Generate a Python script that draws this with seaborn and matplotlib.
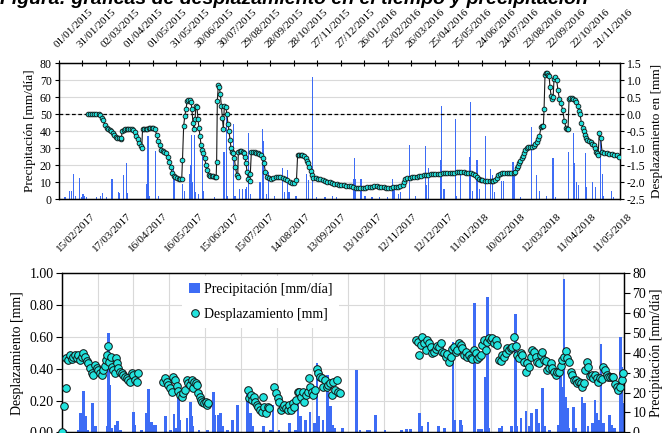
import numpy as np
import pandas as pd
import matplotlib
matplotlib.use("Agg")
import matplotlib.pyplot as plt
import matplotlib.dates as mdates
import matplotlib.transforms as mtransforms
from matplotlib.lines import Line2D
from matplotlib.patches import Patch
import seaborn as sns

# ------------------------------------------------------------------ data
# top panel: 2015-2016 (days counted from top_start)
top_start = "2015-01-01"
top_end_day = 716.5
top_tick_labels = ["01/01/2015", "31/01/2015", "02/03/2015", "01/04/2015", "01/05/2015",
                   "31/05/2015", "30/06/2015", "30/07/2015", "29/08/2015", "28/09/2015",
                   "28/10/2015", "27/11/2015", "27/12/2015", "26/01/2016", "25/02/2016",
                   "26/03/2016", "25/04/2016", "25/05/2016", "24/06/2016", "24/07/2016",
                   "23/08/2016", "22/09/2016", "22/10/2016", "21/11/2016"]

top_disp_day = [38, 40, 42, 45, 48, 51, 53, 55, 57, 59, 61, 63, 65, 67, 69, 71, 73, 75, 77, 79, 80,
                81, 83, 85, 87, 89, 91, 93, 95, 97, 99, 101, 103, 105, 106,
                107, 109, 111, 113, 115, 117, 119, 121, 123, 125,
                127, 129, 131, 133, 135, 137, 139, 141, 143, 145, 147, 149, 151, 153, 155, 157,
                158, 159.5, 161, 162.5, 164, 165.5, 167, 169, 170, 171.4, 172.7, 174, 175.2, 176.5,
                177.8, 179, 180.4, 181.6, 183, 184.6, 186.3, 188, 189.7, 191.5, 193.5, 195.5, 197.5,
                199.5, 201, 201.6, 202.5, 203.8, 205, 206.3, 207.6, 208.9, 210.2, 211.4, 213.1,
                214.8, 216.1, 217.4, 218.7, 220, 221.2, 222.9, 224.2, 225.5, 227.2, 228.5, 229.3,
                231, 233, 235, 236.5, 237.8, 239.1, 240.4, 242.1, 243.8, 244.6, 245.9, 248, 250,
                252, 254, 256, 258, 260.4, 262.1, 263.8, 265.5, 268, 271, 274, 277, 280, 283, 286,
                289, 292, 295, 298, 301, 303.5, 305, 307, 309, 311, 313, 315.5, 317, 318.6, 320,
                321.5, 323, 325, 328, 331, 334, 337, 340, 343, 346, 349, 352, 355, 358, 361, 364,
                367, 370, 373, 376, 379, 382, 385, 388, 391, 394, 397, 400, 403, 406, 409, 412,
                415, 418, 421, 424, 427, 430, 433, 436, 439, 441, 442.6, 445, 448, 451, 454, 457,
                460, 463, 466, 469, 472, 475, 478, 481, 484, 487, 490, 493, 496, 499, 502, 505,
                508, 511, 514, 517, 520, 523, 526, 529, 531, 533.6, 536, 538.7, 541, 544, 547, 550,
                553, 555, 557, 559, 561, 563.4, 566, 569, 572, 575, 578, 581, 583, 584.7, 586.5,
                588.1, 589.5, 591.1, 592.5, 594, 595.7, 597.4, 599.5, 601.7, 604, 606.8, 608.5,
                610.2, 612, 613.6, 615.7, 617, 618.7, 619.6, 620.8, 622.3, 623.8, 625, 626, 627.2,
                628.5, 630.2, 631.2, 632.3, 634, 635.7, 637.4, 639.1, 641.3, 643.4, 645.5, 647.6,
                649, 650.2, 651.5, 653, 654.9, 657, 659.1, 661, 663, 664.3, 665.5, 667.2, 668.9,
                670.2, 671.5, 673.2, 674.9, 677, 679.1, 681.2, 683.4, 684.7, 686, 687.3, 688.5,
                690.2, 691.9, 693.6, 696.5, 699.6, 702.7, 705.9, 709, 712.3, 714.9]
top_disp_mm = [0.00, 0.01, 0.02, 0.02, 0.02, 0.00, -0.03, -0.10, -0.18, -0.33, -0.40, -0.43, -0.46,
               -0.50, -0.55, -0.60, -0.66, -0.70, -0.71, -0.72, -0.70,
               -0.50, -0.47, -0.45, -0.45, -0.44, -0.45, -0.45, -0.48, -0.53, -0.63, -0.72, -0.85,
               -0.95, -1.00,
               -0.45, -0.45, -0.44, -0.44, -0.42, -0.41, -0.40, -0.42, -0.45, -0.60,
               -0.80, -0.90, -1.05, -1.08, -1.10, -1.14, -1.25, -1.40, -1.55, -1.72, -1.82, -1.85,
               -1.88, -1.90, -1.91, -1.92,
               -1.35, -0.35, -0.05, 0.15, 0.40, 0.43, 0.42, 0.35, 0.15, -0.25, -0.45, -0.15, 0.25,
               0.20, -0.15, -0.40, -0.65, -0.90, -1.05, -1.15, -1.30, -1.50, -1.65, -1.80, -1.82,
               -1.82, -1.83, -1.84, -1.85, -1.40, 0.40, 0.87, 0.80, 0.60, 0.25, -0.10, -0.45, 0.25,
               0.22, 0.00, -0.30, -0.50, -0.75, -1.00, -1.10, -1.15, -1.30, -1.55, -1.78, -1.85,
               -1.10, -1.08, -1.08, -1.10, -1.15, -1.25, -1.45, -1.70, -1.90, -1.98, -1.75, -1.12,
               -1.12, -1.12, -1.13, -1.15, -1.17, -1.20, -1.30, -1.45, -1.70, -1.85, -1.88, -1.90,
               -1.88, -1.85, -1.84, -1.85, -1.87, -1.90, -1.95, -2.00, -2.02, -2.02, -1.95, -1.20,
               -1.20, -1.20, -1.21, -1.23, -1.30, -1.37, -1.45, -1.55, -1.68, -1.80, -1.87, -1.89,
               -1.90, -1.92, -1.94, -1.97, -1.99, -2.01, -2.03, -2.05, -2.07, -2.10, -2.10, -2.10,
               -2.11, -2.12, -2.13, -2.15, -2.17, -2.18, -2.18, -2.18, -2.17, -2.16, -2.15, -2.14,
               -2.13, -2.13, -2.14, -2.15, -2.15, -2.17, -2.18, -2.17, -2.16, -2.15, -2.14, -2.12,
               -2.08, -2.00, -1.92, -1.88, -1.87, -1.86, -1.85, -1.84, -1.83, -1.81, -1.80, -1.79,
               -1.78, -1.77, -1.76, -1.76, -1.75, -1.75, -1.74, -1.74, -1.73, -1.73, -1.72, -1.72,
               -1.71, -1.71, -1.71, -1.71, -1.72, -1.72, -1.74, -1.76, -1.80, -1.85, -1.90, -1.93,
               -1.95, -1.97, -1.97, -1.97, -1.97, -1.96, -1.93, -1.88, -1.80, -1.75, -1.73, -1.72,
               -1.72, -1.72, -1.72, -1.72, -1.70, -1.60, -1.52, -1.45, -1.38, -1.30, -1.22, -1.15,
               -1.07, -1.00, -0.98, -0.97, -0.96, -0.93, -0.88, -0.82, -0.73, -0.65, -0.38, -0.36,
               -0.36, 0.15, 1.15, 1.20, 1.20, 1.15, 1.12, 0.80, 0.55, 0.45, 0.50, 1.05, 1.10, 1.00,
               0.70, 0.45, 0.32, 0.12, -0.20, -0.40, -0.44, -0.45, 0.45, 0.48, 0.48, 0.45, 0.42,
               0.35, 0.25, 0.10, 0.00, -0.25, -0.40, -0.50, -0.60, -0.70, -0.75, -0.78, -0.82,
               -0.87, -0.92, -1.00, -1.10, -1.15, -1.20, -0.55, -0.70, -1.12, -1.14, -1.15, -1.17,
               -1.18, -1.19, -1.20, -1.25]

top_rain_day = [8, 14, 16, 19, 22, 26, 29, 31, 33, 36, 48, 53, 56, 61, 67, 68, 76, 77, 83, 86, 88,
                112, 114, 116, 123, 127, 146, 148, 158, 160, 167, 168, 170, 171, 173, 175, 178,
                183, 185, 199, 211, 214, 216, 223, 225, 231, 235, 238, 240, 242, 245, 257, 260,
                262, 265, 268, 276, 286, 288, 292, 294, 302, 303, 316, 319, 324, 329, 340, 350,
                355, 376, 378, 379, 385, 387, 391, 400, 410, 420, 426, 428, 434, 436, 448, 456,
                468, 470, 472, 488, 489, 491, 493, 506, 508, 513, 524, 526, 528, 534, 537, 545,
                551, 554, 556, 565, 568, 580, 582, 589, 604, 610, 614, 623, 631, 634, 651, 657,
                659, 661, 663, 672, 674, 682, 685, 692, 694, 696, 706, 708]
top_rain_mm = [1, 5, 5, 14.5, 2, 12.5, 1, 3, 2, 1, 1, 1.5, 3.5, 1, 6, 12, 4, 3.5, 14, 21, 3.5,
               9, 37, 2, 28.5, 2, 18.5, 11, 9, 5, 15, 20, 38, 10, 38, 4, 3,
               30, 5, 1, 28, 50, 2, 44, 2, 6, 6, 6, 7, 39, 3, 10, 41,
               34, 3, 16, 2, 18.5, 4, 17, 4, 2, 2, 15, 11, 72, 1, 1, 2,
               1, 12, 24, 12, 12, 12, 2, 1, 1, 1, 12, 8, 3, 4, 32, 2,
               31, 8, 18, 23, 55, 6, 6, 47, 2, 14, 25, 57, 5, 23, 6, 37,
               17.5, 14, 4, 10.6, 10.6, 22, 17, 1, 42.6, 14, 5, 2, 24, 1, 28, 39,
               21, 10, 8, 27, 7, 10, 7, 35, 15, 2, 5, 1]

# bottom panel: 2017-2018 (days counted from bot_start)
bot_start = "2017-02-15"
bot_end_day = 471.2
bot_tick_labels = ["15/02/2017", "17/03/2017", "16/04/2017", "16/05/2017", "15/06/2017",
                   "15/07/2017", "14/08/2017", "13/09/2017", "13/10/2017", "12/11/2017",
                   "12/12/2017", "11/01/2018", "10/02/2018", "12/03/2018", "11/04/2018",
                   "11/05/2018"]

bot_disp_day = [0.5, 2.2, 3.3, 3.6, 5.6, 7.0, 8.4, 9.7, 11.1, 12.5, 13.9, 15.3, 16.7, 18.1, 19.5,
                20.9, 22.3, 23.7, 25.1, 26.5, 27.9, 29.3, 30.7, 32.1, 33.5, 34.9, 36.3, 37.1, 37.7,
                39.1, 39.9, 41.3, 42.1, 43.3, 44.7, 45.5, 46.6, 47.4, 48.9, 50.2, 51.6, 53.0, 54.4,
                55.8, 57.2, 58.6, 60.0, 61.4, 62.8, 64.2,
                84.6, 86.6, 88.0, 89.3, 90.7, 92.1, 93.5, 94.9, 96.3, 97.7, 99.1, 100.5, 101.9,
                103.3, 104.7, 106.1, 107.5, 108.9, 109.7, 111.1, 112.5, 113.6, 114.5, 115.9, 116.7,
                117.8, 119.2, 120.6, 121.5, 122.9,
                156.4, 157.2, 158.3, 159.7, 161.1, 162.2, 163.4, 164.8, 166.2, 167.5, 168.4, 169.5,
                170.9, 172.6, 174.0, 178.2, 179.6, 181.0, 182.4, 183.8, 185.1, 186.5, 187.9, 189.3,
                190.7, 192.1, 193.5, 194.9, 196.3, 197.7, 199.1, 200.5, 201.9, 203.3, 204.7, 206.1,
                207.2, 208.1, 209.4, 210.8, 212.2, 213.6, 215.0, 216.4, 217.8, 219.2, 220.6, 222.0,
                223.4, 224.8, 226.2, 227.6, 229.0, 230.4, 231.8, 233.2,
                296.9, 298.8, 299.7, 300.8, 302.2, 303.6, 305.0, 306.4, 307.8, 309.2, 310.6, 312.0,
                313.3, 314.7, 316.1, 317.5, 318.9, 320.3, 321.7, 323.1, 324.5, 325.9, 327.3, 328.7,
                330.1, 331.5, 332.9, 334.3, 335.7, 337.1, 338.5, 339.9, 341.3, 342.7, 344.1, 345.5,
                346.9, 348.3, 349.6, 351.0, 352.4, 353.8, 355.2, 356.6, 358.0, 359.4, 360.8, 362.2,
                363.6, 365.0, 366.4, 367.8, 369.2, 370.6, 372.0, 373.4, 374.8, 376.2, 377.6, 379.0,
                380.4, 381.8, 383.2, 384.6, 385.9, 387.4, 388.8, 390.1, 391.5, 392.9, 394.3, 395.7,
                397.1, 398.5, 399.9, 401.3, 402.7, 404.1, 405.5, 406.9, 408.3, 409.7, 411.1, 412.5,
                413.9, 415.3, 416.7, 418.1, 419.5, 420.9, 422.3, 423.7, 425.1, 426.5, 427.9, 429.2,
                430.6, 432.0, 433.4, 434.8, 436.2, 437.6, 438.7, 439.9, 441.3, 442.7, 444.0, 445.4,
                446.8, 448.2, 449.6, 451.0, 452.4, 453.8, 455.2, 456.6, 458.0, 459.4, 460.8, 462.2,
                463.6, 465.0, 466.4, 467.8, 469.2, 470.6]
bot_disp_mm = [0.000, 0.168, 0.277, 0.465, 0.455, 0.486, 0.461, 0.476, 0.486, 0.465, 0.486, 0.455,
               0.476, 0.497, 0.472, 0.451, 0.434, 0.403, 0.371, 0.361, 0.423, 0.403, 0.392, 0.371,
               0.361, 0.392, 0.417, 0.455, 0.486, 0.543, 0.444, 0.476, 0.413, 0.392, 0.371, 0.465,
               0.434, 0.403, 0.382, 0.371, 0.361, 0.350, 0.340, 0.329, 0.319, 0.371, 0.361, 0.329,
               0.319, 0.375,
               0.319, 0.340, 0.319, 0.298, 0.277, 0.256, 0.350, 0.329, 0.291, 0.262, 0.235, 0.224,
               0.245, 0.266, 0.329, 0.308, 0.298, 0.329, 0.277, 0.319, 0.308, 0.298, 0.245, 0.224,
               0.203, 0.193, 0.182, 0.193, 0.172, 0.182,
               0.266, 0.214, 0.235, 0.203, 0.224, 0.193, 0.172, 0.161, 0.140, 0.130, 0.224, 0.161,
               0.119, 0.161, 0.151, 0.287, 0.245, 0.214, 0.193, 0.140, 0.161, 0.172, 0.151, 0.140,
               0.172, 0.140, 0.182, 0.161, 0.203, 0.256, 0.256, 0.224, 0.256, 0.193, 0.235, 0.256,
               0.340, 0.287, 0.256, 0.235, 0.266, 0.396, 0.371, 0.350, 0.340, 0.287, 0.329, 0.287,
               0.298, 0.308, 0.235, 0.319, 0.266, 0.329, 0.256, 0.245,
               0.581, 0.570, 0.486, 0.549, 0.602, 0.560, 0.518, 0.581, 0.560, 0.535, 0.497, 0.507,
               0.522, 0.543, 0.535, 0.564, 0.507, 0.497, 0.476, 0.493, 0.444, 0.476, 0.522, 0.535,
               0.507, 0.518, 0.560, 0.549, 0.528, 0.486, 0.507, 0.476, 0.486, 0.465, 0.459, 0.518,
               0.497, 0.459, 0.476, 0.486, 0.549, 0.581, 0.518, 0.570, 0.591, 0.581, 0.591, 0.560,
               0.581, 0.549, 0.455, 0.451, 0.486, 0.472, 0.497, 0.528, 0.518, 0.528, 0.539, 0.602,
               0.543, 0.486, 0.465, 0.497, 0.486, 0.444, 0.382, 0.434, 0.413, 0.476, 0.518, 0.507,
               0.476, 0.444, 0.434, 0.486, 0.507, 0.455, 0.451, 0.392, 0.403, 0.434, 0.403, 0.382,
               0.361, 0.382, 0.382, 0.417, 0.455, 0.476, 0.514, 0.465, 0.444, 0.382, 0.361, 0.329,
               0.329, 0.308, 0.319, 0.308, 0.287, 0.308, 0.392, 0.444, 0.413, 0.354, 0.361, 0.340,
               0.361, 0.340, 0.319, 0.340, 0.333, 0.413, 0.392, 0.361, 0.350, 0.350, 0.350, 0.350,
               0.304, 0.287, 0.266, 0.287, 0.329, 0.371]

bot_rain_day = [3, 14, 16, 18, 20, 22, 26, 28, 38, 39, 40, 42, 45, 47, 49, 60, 61, 67, 71, 73, 74,
                75, 77, 79, 87, 91, 94, 96, 98, 99, 105, 108, 109, 110, 115, 122, 127, 128, 131,
                133, 135, 139, 143, 147, 156, 158, 160, 169, 175, 177, 182, 191, 196, 198, 200,
                204, 208, 212, 214, 215, 219, 223, 225, 227, 229, 235, 247, 250, 256, 258, 263,
                271, 285, 289, 292, 300, 302, 307, 316, 321, 328, 329, 334, 335, 346, 349, 352,
                355, 357, 358, 367, 369, 377, 380, 381, 385, 389, 392, 394, 398, 400, 403, 405,
                409, 416, 418, 420, 421, 422, 424, 425, 429, 431, 436, 438, 441, 445, 447, 448,
                450, 452, 454, 459, 461, 463, 468, 469, 470]
bot_rain_mm = [1, 1, 9.6, 21, 8, 1, 14.6, 3, 3, 50, 24, 2, 3.7, 5.7, 1, 10, 3.7, 1, 9.6, 21.6, 5,
               5, 3.7, 3.7, 8, 1, 9.2, 2, 19.6, 6, 7, 15.4, 8, 3, 1, 1, 20.5, 8.7, 8.7,
               9.6, 3, 1, 6, 13.8, 19.6, 9.6, 3, 3, 1, 13.8, 1, 4.5, 1, 14.6, 8,
               6, 10.4, 4.5, 34.7, 8, 6, 28.8, 13, 3.7, 2, 2, 31.4, 1, 1, 1, 8.7,
               1, 1, 1.5, 1.5, 9.6, 3, 5.4, 3, 2, 45.6, 6, 6, 3.7, 65, 1.5, 1.5,
               28, 68, 2, 2, 3, 3, 59.5, 3, 7, 10.7, 3, 9.9, 11.6, 4.5, 22.5, 3,
               1, 3.7, 29.7, 23, 77, 18, 12, 2, 12.9, 2, 18, 14.6, 3, 4.5, 16.3, 9.6,
               6, 44.4, 4.5, 8.7, 3.7, 2, 47.8, 33, 14.6]

# ------------------------------------------------------------------ style
sns.set_theme(style="white")
plt.rcParams["font.family"] = ["Liberation Serif", "DejaVu Serif"]
plt.rcParams["axes.unicode_minus"] = False
for k in ("text.color", "axes.labelcolor", "xtick.color", "ytick.color"):
    plt.rcParams[k] = "black"

BLUE = "#3D6CF5"
CYAN = "#22E3DD"
GRID = "#D9D9D9"


def to_num(start, days):
    return mdates.date2num(pd.Timestamp(start) + pd.to_timedelta(np.asarray(days, float), unit="D"))


fig = plt.figure(figsize=(6.68, 4.33), dpi=100)

# ------------------------------------------------------------------ top panel
ax_t = fig.add_axes([0.0879, 0.5404, 0.8402, 0.3134])
ax_tr = ax_t.twinx()

rx = to_num(top_start, top_rain_day)
ax_t.bar(rx, top_rain_mm, width=1.4, color=BLUE, linewidth=0, zorder=2)
ax_t.set_ylim(0, 80)
ax_t.set_yticks(np.arange(0, 81, 10))
ax_t.yaxis.grid(True, color=GRID, linewidth=0.8)
ax_t.set_axisbelow(True)
x0 = to_num(top_start, [0])[0]
x1 = to_num(top_start, [top_end_day])[0]
ax_t.set_xlim(x0, x1)
tt = mdates.date2num(pd.to_datetime(top_tick_labels, format="%d/%m/%Y"))
ax_t.set_xticks(tt)
ax_t.set_xticklabels(top_tick_labels, rotation=45, ha="left", va="bottom",
                     rotation_mode="anchor", fontsize=8)
ax_t.tick_params(axis="x", bottom=False, labelbottom=False, top=True, labeltop=True,
                 direction="inout", length=4, width=0.8, color="black", pad=8)
ax_t.tick_params(axis="y", left=True, direction="out", length=3, width=0.8, labelsize=8.5, pad=2)
ax_t.set_ylabel("Precipitación [mm/día]", fontsize=9.5, labelpad=3)

dx = to_num(top_start, top_disp_day)
sns.lineplot(x=dx, y=top_disp_mm, ax=ax_tr, color="#1a1a1a", linewidth=0.8,
             marker="o", markersize=3.4, markerfacecolor=CYAN, markeredgecolor="#111111",
             markeredgewidth=0.6, estimator=None, sort=False, zorder=3)
ax_tr.axhline(0, color="black", linestyle=(0, (3, 2)), linewidth=0.9, zorder=2)
ax_tr.set_ylim(-2.5, 1.5)
ax_tr.set_yticks(np.arange(-2.5, 1.51, 0.5))
ax_tr.yaxis.set_major_formatter(matplotlib.ticker.FormatStrFormatter("%.1f"))
ax_tr.tick_params(axis="y", right=True, direction="out", length=3, width=0.8, labelsize=8.5, pad=2)
ax_tr.set_xlim(x0, x1)
ax_tr.set_xlabel("")
ax_tr.set_ylabel("Desplazamiento en [mm]", fontsize=9.5, labelpad=4)
for a in (ax_t, ax_tr):
    for s in a.spines.values():
        s.set_color("black")
        s.set_linewidth(0.9)

# ------------------------------------------------------------------ bottom panel
ax_b = fig.add_axes([0.0924, 0.0016, 0.8417, 0.3672])   # precipitation (right scale)
ax_bd = ax_b.twinx()                                    # displacement (left scale)
ax_b.yaxis.tick_right()
ax_b.yaxis.set_label_position("right")
ax_bd.yaxis.tick_left()
ax_bd.yaxis.set_label_position("left")

bx0 = to_num(bot_start, [0])[0]
bx1 = to_num(bot_start, [bot_end_day])[0]
ax_b.set_xlim(bx0, bx1)
ax_b.set_ylim(0, 80)
ax_b.set_yticks(np.arange(0, 81, 10))
ax_bd.set_ylim(0, 1.0)
ax_bd.set_yticks(np.arange(0, 1.01, 0.2))
ax_bd.yaxis.set_major_formatter(matplotlib.ticker.FormatStrFormatter("%.2f"))

bt = mdates.date2num(pd.to_datetime(bot_tick_labels, format="%d/%m/%Y"))
ax_b.set_xticks(bt)
ax_b.set_xticklabels(bot_tick_labels, rotation=45, ha="left", va="bottom",
                     rotation_mode="anchor", fontsize=8)
ax_b.tick_params(axis="x", bottom=False, labelbottom=False, top=False, labeltop=True, pad=8)
ax_b.xaxis.grid(True, color=GRID, linewidth=0.8)
# horizontal gridlines at the displacement ticks
blend = mtransforms.blended_transform_factory(ax_b.transAxes, ax_bd.transData)
for v in np.arange(0.2, 1.0, 0.2):
    ax_b.plot([0, 1], [v, v], transform=blend, color=GRID, linewidth=0.8, zorder=0.5)
ax_b.set_axisbelow(True)

brx = to_num(bot_start, bot_rain_day)
ax_b.bar(brx, bot_rain_mm, width=2.3, color=BLUE, linewidth=0, zorder=2)
ax_b.tick_params(axis="y", right=True, direction="out", length=4, width=0.8, labelsize=10, pad=2)
ax_b.set_ylabel("Precipitación [mm/día]", fontsize=10, labelpad=3)

bdx = to_num(bot_start, bot_disp_day)
sns.scatterplot(x=bdx, y=bot_disp_mm, ax=ax_bd, color=CYAN, edgecolor="#111111",
                linewidth=0.7, s=30, zorder=3, clip_on=False)
ax_bd.set_xlim(bx0, bx1)
ax_bd.set_xlabel("")
ax_bd.tick_params(axis="y", left=True, direction="out", length=4, width=0.8, labelsize=10, pad=2)
ax_bd.set_ylabel("Desplazamiento [mm]", fontsize=10, labelpad=4)
for a in (ax_b, ax_bd):
    for s in a.spines.values():
        s.set_color("black")
        s.set_linewidth(0.9)

handles = [Patch(facecolor=BLUE, edgecolor="none"),
           Line2D([], [], linestyle="none", marker="o", markersize=5.5,
                  markerfacecolor=CYAN, markeredgecolor="#111111", markeredgewidth=0.7)]
leg = ax_bd.legend(handles, ["Precipitación [mm/día]", "Desplazamiento [mm]"],
                   loc="upper left", bbox_to_anchor=(0.214, 0.985), frameon=True,
                   facecolor="white", edgecolor="none", fancybox=False, framealpha=1,
                   fontsize=10, handlelength=0.8, handleheight=0.8, handletextpad=0.25,
                   labelspacing=0.85, borderpad=0.5, borderaxespad=0)

# ------------------------------------------------------------------ title (cut at top edge)
fig.text(0.0, 1.0, "Figura: gráficas de desplazamiento en el tiempo y precipitación",
         fontsize=14, fontweight="bold", style="italic", ha="left", va="center",
         family=["Liberation Sans", "DejaVu Sans"])

fig.savefig("out.png", dpi=100)
